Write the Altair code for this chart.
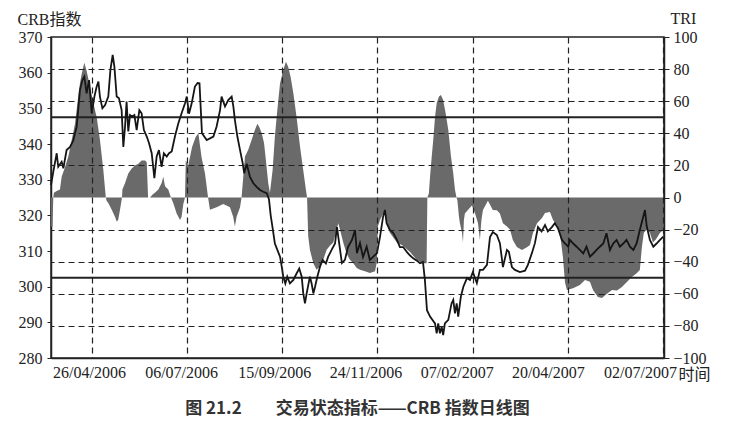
import altair as alt
import pandas as pd

# ---- CRB index (left axis), x = trading-day index ----
crb_day = [0, 1.2, 3, 3.8, 5.6, 6.5, 8.2, 10, 11.7, 13.5, 15.2, 16.5, 17.5, 18.7, 20, 21.4, 22.8, 24, 24.9, 25.7,
           27, 28.4, 30.1, 31.2, 32.4, 33.3, 34.5, 35.7, 37.1, 38, 38.9, 39.7, 40.6, 41.5, 42.7, 43.8, 45, 46.4, 47.6, 48.8,
           50.3, 51.5, 52.9, 54.3, 55.5, 56.7, 58.1, 59.3, 60.8, 62, 63.4, 65.1, 66.9, 68.6, 70.4, 71.3, 72.5, 73.9, 75.6, 77,
           78, 79.3, 81.8, 85.3, 87, 88.8, 89.6, 91.4, 93.1, 94.9, 95.8, 96.6, 97.9, 99.3, 100.7, 101.5, 102.8, 104.5, 106.3, 108,
           109.8, 111.5, 113.3, 114.5, 115.4, 116.4, 117.6, 118.9, 120.3, 121.2, 122, 123.1, 124.1, 125.5, 127.3, 129, 130.4, 131.7, 132.5, 133.4,
           134.3, 136, 136.9, 137.8, 138.7, 139.9, 141.3, 142.7, 144.4, 145.6, 147.4, 149.2, 150.2, 150.9, 152.8, 154.4, 156, 158.1, 159.7, 160.7,
           162.3, 163.9, 165.8, 167.5, 169.3, 171.2, 172.8, 174.4, 175.4, 176.3, 178, 179.8, 181.7, 183.3, 185, 187, 188.5, 190.1, 192.2, 193.8,
           195.4, 196.4, 197.5, 199.1, 201.7, 202.6, 203.4, 204.3, 205.2, 206, 206.9, 208.7, 210.4, 211.3, 212.2, 213.1, 213.9, 215.3, 216.6, 218.5,
           220.1, 221.6, 223.7, 225.3, 226.9, 229, 230.6, 232.1, 234.2, 235.8, 237.4, 239.5, 240.5, 242.1, 243.7, 246.3, 249, 250.5, 252.6, 254.2,
           255.8, 257.7, 259.5, 261, 263.1, 264.7, 266.3, 268.4, 270, 271.7, 272.6, 274.3, 276.1, 277.8, 279.6, 281.3, 283.1, 284.8, 286.6, 288.3,
           290.1, 291.8, 293.6, 295.3, 297.1, 298.8, 300.6, 302.3, 304.1, 305.9, 307.6, 309.3, 311.1, 312, 312.9, 314.6, 316.4, 318.1, 319.9, 321.6]
crb_val = [328.5, 332.2, 337.4, 333.6, 335, 333.2, 338.3, 339.2, 341, 344.9, 355.1, 357.9, 358.9, 354.2, 357.9, 348.6, 353.3, 356.1, 357.5, 353.3,
           350, 350.9, 353.3, 360.7, 365, 361.7, 353.3, 352.8, 349.5, 339.2, 344.9, 351.9, 343.5, 348.1, 347.7, 348.1, 343.9, 349.5, 348.6, 343.9,
           342.1, 340.2, 337.4, 330.4, 336.5, 338.3, 333.6, 337.4, 336.5, 337.4, 337.9, 342.1, 345.8, 348.6, 351.4, 353.3, 348.5, 351.4, 356.1, 357.1,
           357, 343, 341.1, 342.1, 344.9, 349.5, 353.3, 350.5, 352.3, 353.3, 350.5, 346.7, 342.1, 338.3, 334.6, 331.8, 334.5, 330.8, 329, 328,
           327.1, 326.6, 326.2, 324.5, 320, 316.5, 312.1, 310.3, 308.4, 305.6, 302.8, 300.9, 302.8, 300.9, 301.9, 303.7, 305.1, 302.8, 298.1, 295.3,
           298.1, 302.8, 300.9, 298.1, 300, 302.8, 305.6, 307.5, 306.5, 308.4, 310.3, 312.1, 316.7, 314, 306.6, 307.5, 311.1, 313.1, 315.9, 309.4,
           312.2, 308.3, 311.2, 307.5, 308.4, 309.4, 313.9, 319.5, 321.5, 317.8, 315.9, 315, 313.1, 311.1, 311.1, 309.7, 308.8, 308, 307.3, 306.6,
           306.9, 301.9, 293.4, 291.6, 289.7, 286.9, 289.7, 286.9, 288.8, 286.4, 289.7, 290.7, 295.3, 296.3, 292.5, 295.3, 291.6, 297.2, 300, 302.4,
           301.9, 304.1, 301, 304.7, 304.7, 306.1, 313.9, 315.3, 314.5, 312.2, 305.5, 310.3, 309.8, 305.5, 304.7, 304.1, 304.5, 306.1, 309.4, 312.2,
           316.7, 315.5, 317.3, 315.5, 316.7, 317.8, 316.4, 313.1, 312.1, 311.2, 313.1, 312.1, 311.2, 310.3, 309.3, 311.2, 308.4, 309.3, 310.3, 311.2,
           312.1, 315, 310.3, 312.1, 313.1, 311.2, 312.1, 313.1, 311.2, 310.3, 312.1, 315.9, 319.6, 321.5, 317, 313.1, 311.2, 312.1, 313.1, 314]

# ---- TRI (right axis) ----
tri_day = [0, 0.8, 1.2, 1.5, 3, 4.7, 5.6, 7.4, 9.1, 10.9, 12.6, 14.3, 15.2, 16.1, 17.5, 18.7, 20.5, 22.2, 24, 25.7,
           27.5, 28.4, 28.8, 29.2, 30.1, 31.9, 33.6, 34.5, 35.3, 36.2, 37.1, 37.3, 37.5, 38.9, 40.6, 42.4, 44.1, 45.9, 47.6, 49.4,
           50.3, 51, 52, 53.5, 54.6, 56.4, 58.1, 59, 59.9, 61.6, 63, 64.2, 66, 67.8, 68.6, 69.5, 70.4, 70.8, 72.1, 74.1,
           76, 77.4, 79.1, 80.9, 82.5, 83.5, 87, 90.5, 94, 95.7, 96.6, 97.5, 99.3, 100.1, 101, 101.9, 103.6, 105.4, 107.1, 108.4,
           109.4, 110.7, 111.9, 112.9, 114.1, 115, 116.4, 117.6, 118.9, 120.3, 122, 123.4, 124.6, 125.9, 127.3, 129, 130.8, 132.5, 133.9, 134.5,
           135.1, 136, 137.8, 139.5, 141.3, 143, 144.8, 146.5, 148.3, 150.1, 150.9, 151.8, 153.5, 155.3, 157, 158.8, 160.6, 162.3, 164.9, 167.5,
           170.2, 171.2, 171.7, 172.8, 175.4, 177, 178, 181.7, 184.9, 188.6, 192.2, 195.4, 197.3, 197.7, 198.5, 199.1, 200, 200.8, 201.7, 202.6,
           203.8, 204.8, 206, 207.3, 208.7, 210.1, 211.3, 212.2, 213, 213.5, 214.3, 214.8, 215.9, 216.4, 216.9, 217.4, 219, 221.1, 222.7, 224.3,
           225.3, 226.1, 226.9, 229.5, 232.1, 234.2, 235.8, 237.4, 239.5, 241.1, 242.6, 244.7, 247.4, 250, 251.6, 253.2, 255.3, 257.9, 259.5, 262.1,
           263.7, 265.8, 267.3, 268.9, 270, 271, 274.2, 277.8, 280.5, 283.1, 284.7, 287.3, 289.4, 292, 294.7, 297.3, 299.9, 302.5, 305.1, 307.8,
           309.3, 310.4, 311.4, 313, 314.6, 316.2, 317.8, 319.9, 322]
tri_val = [-18, -18, 0, 3, 4, 5, 13, 19, 25.5, 36, 46, 63, 71, 77, 84, 79, 69, 59, 50, 36,
           17, 5, 0, -2, -3.5, -7.7, -12, -15, -14, -8, -1.5, 0, 5, 9, 15, 18, 20, 21, 23, 23,
           22, 0, 0, 2, 3, 5, 9, 13, 7, 5, 0, -3.5, -10, -14, -12, -4, 0, 23, 20, 31.5,
           37.7, 40, 25, 15, 0, -7.7, -6, -4, -6, -12, -18, -12, -6, 0, 13, 25.5, 29.7, 36, 42, 46,
           44, 40, 34, 23, 9, 3, 17, 38, 54.6, 71, 79.5, 84.6, 81.5, 75, 65, 50, 31.7, 17, 4.8, 0,
           -24, -32.6, -41, -45, -43, -38.8, -32.6, -30, -28, -20, -16, -20, -28, -35, -38.8, -41, -44, -45, -46, -47,
           -46, -40, -18, -14, -8, -18, -22, -28, -30, -34, -39, -41, -41, 0, 2.7, 13, 25.5, 36, 50, 58.7,
           62.9, 63.9, 60.8, 52.5, 42, 25.5, 15, 4.8, 0, -2, -12, -16, -22, -28, -14, -10, -7.8, -5, -9.6, -16,
           -26.5, -14, -7.8, -2, -7.8, -8, -10, -16, -18, -20, -26.5, -30.8, -32.7, -31, -29.6, -22, -16, -12.8, -9.6, -9,
           -14, -17, -22, -37, -53, -57.6, -56.5, -54.5, -51.4, -52.5, -57.6, -62, -62.6, -60, -57.6, -58, -55.7, -52.6, -49.5, -47,
           -45.2, -30.8, -22, -20, -22, -28, -26, -22, -20]

# ---- axes / reference levels ----
tick_days = [21.5, 71.5, 121.5, 171.5, 221.5, 271.5, 321.5]
tick_labels = ["26/04/2006", "06/07/2006", "15/09/2006", "24/11/2006", "07/02/2007", "20/04/2007", "02/07/2007"]
label_shift = [-3, -6, -8, -12, -16, -20, -23]
crb_ticks = [280, 290, 300, 310, 320, 330, 340, 350, 360, 370]
tri_ticks = [-100, -80, -60, -40, -20, 0, 20, 40, 60, 80, 100]
tri_levels = [50, -50]

crb_df = pd.DataFrame({"day": crb_day, "crb": crb_val})
tri_df = pd.DataFrame({"day": tri_day, "tri": tri_val})
lvl_df = pd.DataFrame({"tri": tri_levels})

SERIF = "Liberation Serif, Noto Sans CJK SC"
INK = "#222222"

label_expr = "[" + ",".join("'%s'" % t for t in tick_labels) + "][round((datum.value - %s) / 50)]" % tick_days[0]
offset_cond = {
    "condition": [{"test": "abs(datum.value - %s) < 1" % d, "value": s} for d, s in zip(tick_days, label_shift)],
    "value": 0,
}

x_scale = alt.Scale(domain=[0, 322], nice=False, zero=False)
x_axis = alt.Axis(
    values=tick_days, labelExpr=label_expr, labelOffset=offset_cond,
    labelOverlap=False, labelFlush=False, labelBound=False,
    grid=True, gridDash=[6, 4], gridColor=INK, gridWidth=1.2,
    ticks=False, tickSize=0, labelPadding=6,
    labelFont=SERIF, labelFontSize=16, labelColor=INK,
    domainColor=INK, domainWidth=1.5, zindex=1,
    title="时间", titleX=627, titleY=16, titleAlign="left", titleBaseline="middle",
    titleAngle=0, titleFont=SERIF, titleFontSize=16, titleFontWeight="normal", titleColor=INK,
)

tri_axis = alt.Axis(
    orient="right", values=tri_ticks,
    labelExpr="datum.value < 0 ? '\u2212' + abs(datum.value) : datum.label",
    labelOverlap=False, labelFlush=False,
    grid=True, gridDash=[6, 4], gridColor=INK, gridWidth=1.2,
    gridOpacity={"condition": {"test": "datum.value == 0 || abs(datum.value) == 100", "value": 0}, "value": 1},
    tickSize=5, tickColor=INK, labelPadding=4,
    labelFont=SERIF, labelFontSize=16, labelColor=INK,
    domainColor=INK, domainWidth=1.5, zindex=1,
    title="TRI", titleX=6, titleY=-19, titleAlign="left", titleBaseline="middle",
    titleAngle=0, titleFont=SERIF, titleFontSize=16, titleFontWeight="normal", titleColor=INK,
)

crb_axis = alt.Axis(
    orient="left", values=crb_ticks, grid=False,
    labelOverlap=False, labelFlush=False,
    tickSize=4, tickColor=INK, labelPadding=5,
    labelFont=SERIF, labelFontSize=16, labelColor=INK,
    domainColor=INK, domainWidth=1.5,
    title="CRB指数", titleX=-34, titleY=-18, titleAlign="left", titleBaseline="middle",
    titleAngle=0, titleFont=SERIF, titleFontSize=16, titleFontWeight="normal", titleColor=INK,
)

tri_scale = alt.Scale(domain=[-100, 100], nice=False)

area = alt.Chart(tri_df).mark_area(color="#6a6a6a", opacity=1).encode(
    x=alt.X("day:Q", scale=x_scale, axis=x_axis),
    y=alt.Y("tri:Q", scale=tri_scale, axis=tri_axis, stack=None),
)

levels = alt.Chart(lvl_df).mark_rule(color=INK, strokeWidth=2).encode(
    y=alt.Y("tri:Q", scale=tri_scale, axis=tri_axis),
)

tri_layer = alt.layer(area, levels)

line = alt.Chart(crb_df).mark_line(color="#151515", strokeWidth=1.8).encode(
    x=alt.X("day:Q", scale=x_scale, axis=x_axis),
    y=alt.Y("crb:Q", scale=alt.Scale(domain=[280, 370], nice=False, zero=False), axis=crb_axis),
)

chart = alt.layer(tri_layer, line).resolve_scale(y="independent").properties(
    width=613,
    height=321,
    autosize=alt.AutoSizeParams(type="none"),
    padding={"left": 43, "top": 29, "right": 66, "bottom": 75},
    title=alt.TitleParams(
        "图 21.2\u3000\u3000交易状态指标——CRB 指数日线图",
        orient="bottom", anchor="middle", offset=19,
        font="Noto Sans CJK SC", fontSize=17, fontWeight="bold", color="#333333",
    ),
).configure(background="white").configure_view(stroke=INK, strokeWidth=1.5)

chart.save("out.html", embed_options={"renderer": "svg", "actions": False})
